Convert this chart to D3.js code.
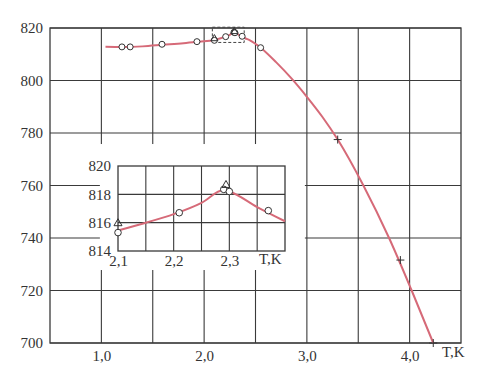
<!DOCTYPE html>
<html>
<head>
<meta charset="utf-8">
<script src="https://cdn.jsdelivr.net/npm/d3@7"></script>
<style>
  body { margin: 0; background: #fff; }
  svg text { font-family: "Liberation Serif", "DejaVu Serif", serif; fill: #333; }
</style>
</head>
<body>
<svg width="500" height="372"></svg>
<script>
// main chart values
const mainYTicks = [700, 720, 740, 760, 780, 800, 820];
const mainXGrid = [1.0, 1.5, 2.0, 2.5, 3.0, 3.5, 4.0];
const mainXLabels = [1.0, 2.0, 3.0, 4.0];
const curveT   = [1.04, 1.2, 1.4, 1.6, 1.8, 1.95, 2.1, 2.15, 2.2, 2.25, 2.29, 2.3, 2.35, 2.4, 2.45, 2.55, 2.7, 2.85, 3.0, 3.15, 3.3, 3.55, 3.8, 4.02, 4.23];
const curveRho = [812.9, 812.8, 813.0, 813.6, 814.2, 814.8, 815.45, 816.0, 816.6, 817.4, 818.3, 818.2, 817.1, 816.1, 815.2, 812.5, 807, 800.8, 793.8, 786.2, 777.5, 760, 740, 720, 700];
const circleT   = [1.2, 1.28, 1.59, 1.93, 2.1, 2.21, 2.29, 2.3, 2.37, 2.55];
const circleRho = [812.8, 812.8, 813.8, 814.8, 815.3, 816.7, 818.35, 818.2, 816.85, 812.5];
const triT   = [2.1, 2.294];
const triRho = [815.95, 818.65];
const crossT   = [3.30, 3.91, 4.23];
const crossRho = [777.5, 731.6, 700];

// inset values
const insetYTicks = [814, 816, 818, 820];
const insetXGrid = [2.15, 2.2, 2.25, 2.3, 2.35];
const insetXLabels = [2.1, 2.2, 2.3];
const insetT   = [2.1, 2.15, 2.2, 2.25, 2.29, 2.3, 2.35, 2.4];
const insetRho = [815.45, 816.0, 816.6, 817.4, 818.3, 818.2, 817.1, 816.1];
const insetCircleT   = [2.1, 2.21, 2.29, 2.3, 2.37];
const insetCircleRho = [815.3, 816.7, 818.35, 818.2, 816.85];

const svg = d3.select("svg");
const lineColor = "#d66a78";
const gridColor = "#3a3a3a";
const serif = '"Liberation Serif", "DejaVu Serif", serif';
const fmt = v => d3.format(".1f")(v).replace(".", ",");

const x = d3.scaleLinear().domain([0.5, 4.5]).range([50, 461]);
const y = d3.scaleLinear().domain([700, 820]).range([343, 28]);

// grid
const g = svg.append("g");
g.selectAll(".hg").data(mainYTicks).join("line")
    .attr("x1", x(0.5)).attr("x2", x(4.5))
    .attr("y1", d => y(d)).attr("y2", d => y(d))
    .attr("stroke", gridColor).attr("stroke-width", 1.1);
g.selectAll(".vg").data(mainXGrid).join("line")
    .attr("x1", d => x(d)).attr("x2", d => x(d))
    .attr("y1", y(820)).attr("y2", y(700))
    .attr("stroke", gridColor).attr("stroke-width", 1.1);
g.append("rect")
    .attr("x", x(0.5)).attr("y", y(820))
    .attr("width", x(4.5) - x(0.5)).attr("height", y(700) - y(820))
    .attr("fill", "none").attr("stroke", gridColor).attr("stroke-width", 1.3);

// labels
const yAxis = svg.append("g").attr("transform", `translate(${x(0.5) - 4},0)`)
    .call(d3.axisLeft(y).tickValues(mainYTicks).tickSize(0).tickFormat(d3.format("d")));
const xAxis = svg.append("g").attr("transform", `translate(0,${y(700) + 4})`)
    .call(d3.axisBottom(x).tickValues(mainXLabels).tickSize(0).tickFormat(fmt));
[yAxis, xAxis].forEach(a => {
  a.attr("font-family", serif);
  a.select(".domain").remove();
  a.selectAll("text").style("font-size", "15px").style("fill", "#333");
});
svg.append("text").attr("x", x(4.5) - 19).attr("y", y(700) + 14)
    .style("font-size", "15px").text("T,K");

// main curve
const line = d3.line().x(d => x(d[0])).y(d => y(d[1])).curve(d3.curveMonotoneX);
svg.append("path").datum(d3.zip(curveT, curveRho))
    .attr("d", line).attr("fill", "none")
    .attr("stroke", lineColor).attr("stroke-width", 2);

// dashed box around zoomed region
svg.append("rect")
    .attr("x", x(2.08)).attr("y", y(820.3))
    .attr("width", x(2.39) - x(2.08)).attr("height", y(814.5) - y(820.3))
    .attr("fill", "none").attr("stroke", "#444").attr("stroke-width", 1)
    .attr("stroke-dasharray", "3,2");

svg.selectAll(".mc").data(d3.zip(circleT, circleRho)).join("circle")
    .attr("cx", d => x(d[0])).attr("cy", d => y(d[1])).attr("r", 3)
    .attr("fill", "#fff").attr("stroke", "#333").attr("stroke-width", 1);
svg.selectAll(".mt").data(d3.zip(triT, triRho)).join("path")
    .attr("d", d3.symbol().type(d3.symbolTriangle).size(22))
    .attr("transform", d => `translate(${x(d[0])},${y(d[1])})`)
    .attr("fill", "none").attr("stroke", "#333").attr("stroke-width", 1);
svg.selectAll(".mx").data(d3.zip(crossT, crossRho)).join("g")
    .attr("transform", d => `translate(${x(d[0])},${y(d[1])})`)
    .each(function() {
      d3.select(this).append("line").attr("x1", -4).attr("x2", 4).attr("stroke", "#333");
      d3.select(this).append("line").attr("y1", -4).attr("y2", 4).attr("stroke", "#333");
    });

// white area behind the inset
svg.append("rect")
    .attr("x", x(1.0) - 1.5).attr("y", y(775.8))
    .attr("width", x(3.0) - x(1.0) - 0.5).attr("height", y(727.8) - y(775.8))
    .attr("fill", "#fff");

// inset
const ix = d3.scaleLinear().domain([2.1, 2.4]).range([118, 285]);
const iy = d3.scaleLinear().domain([814, 820]).range([251, 166]);
const ig = svg.append("g");
ig.selectAll(".ihg").data(insetYTicks.slice(1, 3)).join("line")
    .attr("x1", ix(2.1)).attr("x2", ix(2.4))
    .attr("y1", d => iy(d)).attr("y2", d => iy(d))
    .attr("stroke", gridColor).attr("stroke-width", 1.1);
ig.selectAll(".ivg").data(insetXGrid).join("line")
    .attr("x1", d => ix(d)).attr("x2", d => ix(d))
    .attr("y1", iy(820)).attr("y2", iy(814))
    .attr("stroke", gridColor).attr("stroke-width", 1.1);
ig.append("rect")
    .attr("x", ix(2.1)).attr("y", iy(820))
    .attr("width", ix(2.4) - ix(2.1)).attr("height", iy(814) - iy(820))
    .attr("fill", "none").attr("stroke", gridColor).attr("stroke-width", 1.3);

const iyAxis = svg.append("g").attr("transform", `translate(${ix(2.1) - 4},0)`)
    .call(d3.axisLeft(iy).tickValues(insetYTicks).tickSize(0).tickFormat(d3.format("d")));
const ixAxis = svg.append("g").attr("transform", `translate(0,${iy(814) + 1})`)
    .call(d3.axisBottom(ix).tickValues(insetXLabels).tickSize(0).tickFormat(fmt));
[iyAxis, ixAxis].forEach(a => {
  a.attr("font-family", serif);
  a.select(".domain").remove();
  a.selectAll("text").style("font-size", "15px").style("fill", "#333");
});
svg.append("text").attr("x", ix(2.4) - 26).attr("y", iy(814) + 13)
    .style("font-size", "15px").text("T,K");

const iline = d3.line().x(d => ix(d[0])).y(d => iy(d[1])).curve(d3.curveMonotoneX);
svg.append("path").datum(d3.zip(insetT, insetRho))
    .attr("d", iline).attr("fill", "none")
    .attr("stroke", lineColor).attr("stroke-width", 2);
svg.selectAll(".ic").data(d3.zip(insetCircleT, insetCircleRho)).join("circle")
    .attr("cx", d => ix(d[0])).attr("cy", d => iy(d[1])).attr("r", 3.3)
    .attr("fill", "#fff").attr("stroke", "#333").attr("stroke-width", 1);
svg.selectAll(".it").data(d3.zip(triT, triRho)).join("path")
    .attr("d", d3.symbol().type(d3.symbolTriangle).size(28))
    .attr("transform", d => `translate(${ix(d[0])},${iy(d[1])})`)
    .attr("fill", "none").attr("stroke", "#333").attr("stroke-width", 1);
</script>
</body>
</html>
